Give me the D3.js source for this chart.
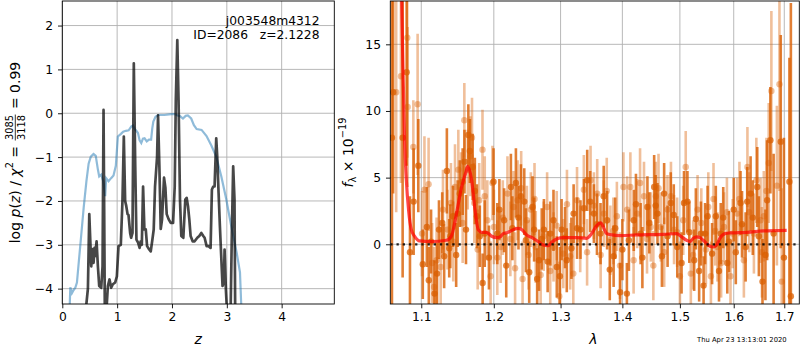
<!DOCTYPE html>
<html><head><meta charset="utf-8">
<script src="https://cdn.jsdelivr.net/npm/d3@7"></script>
<style>
body{margin:0;background:#fff}
svg{display:block}
text{font-family:"DejaVu Sans",sans-serif;white-space:pre}
</style>
</head><body>
<svg id="c" width="800" height="350" xml:space="preserve"></svg>
<script>
// ---------------- DATA ----------------
const zTicks = [0, 1, 2, 3, 4];
const logpTicks = [-4, -3, -2, -1, 0, 1, 2];
const waveTicks = [1.1, 1.2, 1.3, 1.4, 1.5, 1.6, 1.7];
const fluxTicks = [0, 5, 10, 15];

// blue curve (chi2-based), [z, value]
const chiCurve = [[0.13,-4.6],[0.146,-3.97],[0.176,-4.1],[0.207,-4.03],[0.237,-3.98],[0.267,-3.86],[0.30,-3.4],[0.34,-2.85],[0.39,-2.15],[0.44,-1.55],[0.48,-1.15],[0.52,-0.99],[0.57,-0.93],[0.61,-0.97],[0.65,-1.29],[0.673,-1.44],[0.71,-1.4],[0.746,-1.55],[0.782,-1.89],[0.8,-1.48],[0.843,-1.55],[0.89,-1.48],[0.934,-1.42],[0.976,-1.2],[1.013,-0.53],[1.07,-0.47],[1.11,-0.42],[1.16,-0.40],[1.21,-0.39],[1.26,-0.30],[1.29,-0.28],[1.32,-0.36],[1.35,-0.40],[1.38,-0.45],[1.41,-0.62],[1.44,-0.68],[1.47,-0.58],[1.50,-0.57],[1.54,-0.64],[1.58,-0.60],[1.62,-0.60],[1.64,-0.35],[1.66,-0.19],[1.70,-0.08],[1.75,-0.04],[1.86,-0.04],[1.99,-0.02],[2.05,-0.02],[2.10,-0.05],[2.14,-0.06],[2.20,-0.12],[2.25,-0.06],[2.29,-0.05],[2.35,-0.12],[2.40,-0.27],[2.45,-0.36],[2.54,-0.38],[2.63,-0.52],[2.72,-0.74],[2.81,-1.0],[2.90,-1.44],[2.99,-1.96],[3.08,-2.57],[3.18,-3.18],[3.24,-3.63],[3.27,-4.6]];

// black curve log p(z), [z, value]
const logpCurve = [[0.419,-4.6],[0.467,-4.0],[0.492,-2.30],[0.528,-3.49],[0.552,-3.1],[0.57,-3.41],[0.588,-3.07],[0.60,-3.26],[0.625,-2.92],[0.649,-3.49],[0.673,-3.94],[0.71,-3.98],[0.734,-3.49],[0.752,0.075],[0.776,-4.6],[0.80,-4.6],[0.831,-3.94],[0.861,-3.79],[0.891,-3.98],[0.922,-3.9],[0.964,-3.86],[0.995,-3.72],[1.025,-3.03],[1.067,-3.0],[1.097,-2.0],[1.122,-0.53],[1.146,-2.0],[1.164,-2.1],[1.19,-2.3],[1.207,-2.32],[1.237,-2.73],[1.255,-2.84],[1.28,-2.73],[1.304,1.14],[1.33,-1.2],[1.352,-2.88],[1.382,-2.95],[1.41,-3.07],[1.43,-2.92],[1.45,-3.0],[1.473,-1.67],[1.497,-2.65],[1.522,-2.65],[1.546,-3.03],[1.582,-3.1],[1.613,-3.15],[1.643,-2.88],[1.667,-2.65],[1.691,-1.67],[1.728,-1.0],[1.746,-0.05],[1.77,-1.2],[1.795,-2.64],[1.819,-2.42],[1.855,-1.47],[1.88,-1.7],[1.904,-2.3],[1.94,-2.42],[1.977,-2.5],[2.02,-2.5],[2.05,-1.67],[2.07,0.3],[2.097,1.67],[2.12,0.3],[2.146,-1.97],[2.17,-2.8],[2.207,-2.84],[2.243,-1.97],[2.268,-1.93],[2.292,-2.12],[2.316,-2.42],[2.34,-2.8],[2.377,-2.92],[2.413,-2.92],[2.462,-2.84],[2.498,-2.8],[2.535,-2.73],[2.571,-2.8],[2.595,-2.84],[2.632,-3.03],[2.668,-3.03],[2.704,-3.07],[2.728,-1.74],[2.753,-1.67],[2.777,-1.67],[2.807,-0.57],[2.825,-0.98],[2.85,-1.82],[2.874,-2.58],[2.898,-3.26],[2.922,-3.94],[2.947,-3.86],[2.959,-3.11],[2.983,-4.02],[3.007,-4.6],[3.068,-4.6],[3.092,-2.73],[3.116,-1.21],[3.14,-1.97],[3.153,-4.6]];

// spectrum, darker exposure: wavelength (micron), flux, error
const waveA = [1.0620,1.0635,1.0757,1.0809,1.0852,1.0900,1.0961,1.1074,1.1100,1.1176,1.1236,1.1306,1.1343,1.1375,1.1426,1.1491,1.1560,1.1606,1.1639,1.1699,1.1759,1.1840,1.1870,1.1996,1.2050,1.2149,1.2248,1.2322,1.2396,1.2446,1.2520,1.2594,1.2668,1.2743,1.2842,1.2941,1.3016,1.3097,1.3205,1.3314,1.3422,1.3530,1.3638,1.3746,1.3854,1.3962,1.4076,1.4193,1.4310,1.4427,1.4544,1.4602,1.4719,1.4836,1.4953,1.5074,1.5136,1.5259,1.5383,1.5432,1.5506,1.5660,1.5753,1.5877,1.6000,1.6131,1.6261,1.6327,1.6458,1.6562,1.6654,1.6719,1.6784,1.6928,1.6993,1.7105,1.7135,
  1.1020,1.1130,1.1210,1.1280,1.1390,1.1470,1.1520,1.1585,1.1660,1.1730,1.1800,1.1930,1.2080,1.2180,1.2270,1.2360,1.2470,1.2570,1.2640,1.2710,1.2800,1.2890,1.2990,1.3070,1.3170,1.3260,1.3370,1.3470,1.3580,1.3690,1.3790,1.3880,1.4000,1.4110,1.4230,1.4340,1.4460,1.4570,1.4680,1.4780,1.4890,1.5030,1.5170,1.5290,1.5350,1.5460,1.5590,1.5720,1.5800,1.5910,1.6040,1.6160,1.6230,1.6370,1.6490,1.6620];
const fluxA = [8,11.4,8.0,12.9,-0.6,3.2,5.9,1.3,-2.7,-3.7,1.1,-0.9,5.5,-0.3,2.1,2.3,4.7,1.1,8.2,5.8,2.1,-2.9,0.8,4.7,0.8,1.8,4.3,4.6,3.6,3.2,-2.1,1.1,-1.2,1.1,0.8,-1.7,1.1,-1.2,2.3,1.1,4.8,2.3,0.8,1.8,-0.9,-3.6,-3.7,1.8,0.8,2.8,4.3,2.3,3.8,3.1,-0.2,3.1,3.2,-1.2,0.8,-3.1,2.1,2.1,0.8,-1.4,2.6,3.1,3.2,3.8,4.3,-2.8,3.3,7.8,0.8,7.7,-1.0,4.7,-3.9,
  -1.5,0.2,-2.2,1.6,0.6,-0.8,3.8,6.2,7.0,4.0,0.6,-1.0,2.6,-1.6,1.2,2.0,0.3,2.8,-2.6,0.4,-1.3,1.8,-2.4,0.5,-0.3,1.2,2.7,3.2,1.5,3.6,-1.9,1.2,-0.4,0.3,3.0,-1.0,1.6,2.9,-0.9,0.6,2.2,-1.4,0.9,1.9,-2.0,0.8,-0.7,-2.0,2.0,0.2,-0.6,1.5,-0.2,2.0,0.6,-0.8];
const errA = [20,7.6,10.5,7,4.2,4,3.5,3.0,2.5,2.5,2.2,2.4,3.2,2.2,2.3,2.5,2.5,2.6,2.3,2.5,2.4,2.2,2.5,2.5,2.3,2.4,2.5,2.6,2.4,2.5,2.3,2.4,2.3,2.3,2.4,2.3,2.3,2.4,2.2,2.2,2.3,2.2,2.3,2.2,2.3,2.2,2.3,2.3,2.3,2.3,2.4,2.3,2.3,2.3,2.3,2.4,2.3,2.3,2.4,2.2,2.3,2.3,2.3,2.3,2.4,2.4,2.6,2.8,3.0,3.2,4.5,4.0,6,8,9,9.3,22,
  2.6,2.4,2.3,2.3,2.4,2.4,2.5,2.4,2.4,2.5,2.3,2.4,2.3,2.4,2.4,2.4,2.4,2.3,2.3,2.3,2.3,2.3,2.2,2.3,2.3,2.3,2.2,2.3,2.3,2.3,2.3,2.3,2.3,2.3,2.3,2.3,2.3,2.3,2.3,2.3,2.3,2.3,2.3,2.3,2.3,2.3,2.3,2.3,2.3,2.3,2.4,2.5,2.6,2.8,3.0,3.4];

// spectrum, lighter exposure
const waveB = [1.0674,1.0735,1.0817,1.0822,1.0896,1.0952,1.1042,1.1097,1.1144,1.1204,1.1259,1.1352,1.1398,1.1454,1.1537,1.1583,1.1630,1.1667,1.1722,1.1792,1.1838,1.1907,1.1954,1.2002,1.2099,1.2198,1.2287,1.2347,1.2421,1.2485,1.2545,1.2619,1.2693,1.2792,1.2891,1.2980,1.3043,1.3151,1.3259,1.3368,1.3476,1.3584,1.3692,1.3800,1.3908,1.4018,1.4135,1.4251,1.4368,1.4485,1.4573,1.4661,1.4778,1.4895,1.5000,1.5105,1.5198,1.5321,1.5475,1.5568,1.5617,1.5691,1.5815,1.5938,1.6065,1.6196,1.6265,1.6392,1.6523,1.6588,1.6686,1.6739,1.6850,1.6902,1.6948,
  1.1010,1.1170,1.1290,1.1430,1.1500,1.1560,1.1690,1.1770,1.1870,1.1980,1.2050,1.2130,1.2240,1.2310,1.2400,1.2510,1.2600,1.2740,1.2840,1.2940,1.3100,1.3200,1.3310,1.3420,1.3530,1.3640,1.3740,1.3850,1.3960,1.4080,1.4190,1.4300,1.4420,1.4530,1.4620,1.4720,1.4840,1.4950,1.5060,1.5240,1.5390,1.5520,1.5650,1.5760,1.5870,1.5980,1.6110,1.6300,1.6440,1.6550,1.6640];
const fluxB = [11.4,12.6,15.5,10.3,7.3,10.5,4.1,4.5,-1.4,-1.2,-1.7,1.1,3.1,4.3,4.1,9.3,5.6,6.6,3.1,3.3,7.1,1.8,-2.4,1.3,-0.2,3.8,2.8,3.3,-2.6,1.8,2.6,-0.2,-2.3,2.8,-0.2,-3.9,-0.7,-0.9,3.3,4.1,4.8,3.8,2.3,0.3,2.1,4.3,4.3,2.3,3.6,1.3,3.6,1.3,2.6,1.1,-2.4,5.8,-2.2,2.6,-0.4,-2.4,3.4,-0.2,1.3,-2.4,2.3,-1.2,5.8,0.8,1.8,2.1,6.1,11.5,4.4,12.0,-2.8,
  0.8,-3.2,2.6,0.2,5.6,1.6,8.0,-0.4,3.6,4.6,-1.0,2.0,0.4,-1.8,4.2,-0.8,3.4,0.6,-2.0,1.4,3.0,-2.2,0.4,-0.6,2.9,-0.8,4.0,1.0,-1.6,2.6,-1.2,4.6,0.4,-1.6,4.2,-0.6,3.6,0.9,1.8,-0.8,1.6,2.8,1.0,-1.4,2.4,0.8,3.4,2.4,4.8,-0.6,4.0];
const errB = [9,8,9,6,3.5,5.3,4.0,3.5,3,3.2,3,3,3,3.2,2.8,2.8,3,3,3,2.8,3,3,2.6,2.8,2.7,2.8,2.7,3,2.8,2.6,2.8,2.7,2.6,2.6,2.6,2.6,2.6,2.5,2.5,2.6,2.6,2.6,2.5,2.6,2.6,2.6,2.6,2.6,2.6,2.6,2.6,2.6,2.6,2.6,2.6,2.7,2.6,2.6,2.6,2.6,2.7,2.6,2.6,2.6,2.7,2.8,3.0,3.0,3.2,3.4,4.5,6,6,8,7,
  3.2,3,3,3,3,3,3,3,3,2.8,2.8,2.8,2.8,2.7,2.8,2.6,2.7,2.6,2.6,2.6,2.6,2.5,2.5,2.5,2.5,2.5,2.5,2.5,2.5,2.5,2.5,2.6,2.6,2.6,2.6,2.6,2.6,2.6,2.6,2.6,2.6,2.6,2.6,2.6,2.6,2.6,2.8,3.0,3.2,3.4,4.0];

// best-fit model, [wavelength, flux]
const modelCurve = [[1.0739,20],[1.0761,13.3],[1.0783,7.6],[1.0804,4.9],[1.0835,2.5],[1.0869,1.1],[1.0913,0.6],[1.0979,0.25],[1.1133,0.2],[1.1335,0.3],[1.1403,0.6],[1.1471,2.2],[1.1541,4.2],[1.1610,5.5],[1.1629,5.85],[1.1685,4.8],[1.1732,2.6],[1.1778,1.1],[1.1826,0.9],[1.1897,0.9],[1.1969,0.6],[1.2041,0.5],[1.2089,0.55],[1.2137,0.8],[1.2210,0.9],[1.2284,1.1],[1.2358,1.2],[1.2408,1.1],[1.2483,0.7],[1.2581,0.45],[1.2657,0.2],[1.2733,-0.05],[1.2810,-0.1],[1.2862,0.15],[1.2939,0.4],[1.3042,0.5],[1.3253,0.5],[1.3413,0.45],[1.3494,0.8],[1.3575,1.4],[1.3641,1.6],[1.3683,1.3],[1.3739,0.8],[1.3822,0.7],[1.3960,0.65],[1.4243,0.7],[1.4704,0.75],[1.4942,0.8],[1.5032,0.55],[1.5122,0.3],[1.5182,0.2],[1.5242,0.45],[1.5305,0.55],[1.5365,0.5],[1.5426,0.3],[1.5489,0.05],[1.5550,-0.15],[1.5612,-0.2],[1.5675,-0.05],[1.5737,0.45],[1.5832,0.8],[1.5928,0.85],[1.6250,0.9],[1.6577,1.0],[1.7049,1.05]];

const titleLines = ["j003548m4312", "ID=2086   z=2.1228"];
const stamp = "Thu Apr 23 13:13:01 2020";

// ---------------- DRAW ----------------
const svg = d3.select("#c");
const L = {x0:62.3, x1:334.3, y0:1, y1:304};
const R = {x0:390.3, x1:799.3, y0:1, y1:304};
const xz = d3.scaleLinear().domain([0, 4.96]).range([L.x0, L.x1]);
const yz = d3.scaleLinear().domain([-4.35, 2.56]).range([L.y1, L.y0]);
const xl = d3.scaleLog().domain([1.0599, 1.7309]).range([R.x0, R.x1]);
const yf = d3.scaleLinear().domain([-4.48, 18.25]).range([R.y1, R.y0]);

const defs = svg.append("defs");
[["clipL", L], ["clipR", R]].forEach(([id, b]) => {
  defs.append("clipPath").attr("id", id).append("rect")
    .attr("x", b.x0).attr("y", b.y0).attr("width", b.x1 - b.x0).attr("height", b.y1 - b.y0);
});

const GRID = "#b0b0b0";
function grid(b, xs, xt, ys, yt) {
  const g = svg.append("g").attr("stroke", GRID).attr("stroke-width", 0.9);
  xt.forEach(t => g.append("line").attr("x1", xs(t)).attr("x2", xs(t)).attr("y1", b.y0).attr("y2", b.y1));
  yt.forEach(t => g.append("line").attr("y1", ys(t)).attr("y2", ys(t)).attr("x1", b.x0).attr("x2", b.x1));
}
grid(L, xz, zTicks, yz, logpTicks);
grid(R, xl, waveTicks, yf, fluxTicks);

// left panel curves
const gl = svg.append("g").attr("clip-path", "url(#clipL)");
const lineZ = d3.line().x(d => xz(d[0])).y(d => yz(d[1]));
gl.append("path").datum(chiCurve).attr("d", lineZ).attr("fill", "none")
  .attr("stroke", "#1f77b4").attr("stroke-opacity", 0.5).attr("stroke-width", 2.2);
gl.append("path").datum(logpCurve).attr("d", lineZ).attr("fill", "none")
  .attr("stroke", "#000").attr("stroke-opacity", 0.72).attr("stroke-width", 2.7).attr("stroke-linejoin", "round");

// right panel spectrum
const gr = svg.append("g").attr("clip-path", "url(#clipR)");
const ORANGE = "#d95f02";
function errSeries(w, f, e, op, pop) {
  const g = gr.append("g");
  w.forEach((x, i) => {
    g.append("line").attr("x1", xl(x)).attr("x2", xl(x))
      .attr("y1", yf(f[i] - e[i])).attr("y2", yf(f[i] + e[i]))
      .attr("stroke", ORANGE).attr("stroke-opacity", op).attr("stroke-width", 2.6);
  });
  w.forEach((x, i) => {
    g.append("circle").attr("cx", xl(x)).attr("cy", yf(f[i])).attr("r", 3.2)
      .attr("fill", ORANGE).attr("fill-opacity", pop);
  });
}
errSeries(waveB, fluxB, errB, 0.4, 0.4);
errSeries(waveA, fluxA, errA, 0.8, 0.75);

const lineW = d3.line().x(d => xl(d[0])).y(d => yf(d[1])).curve(d3.curveMonotoneX);
gr.append("path").datum(modelCurve).attr("d", lineW).attr("fill", "none")
  .attr("stroke", "#ff0000").attr("stroke-opacity", 0.72).attr("stroke-width", 3.2);
gr.append("line").attr("x1", R.x0).attr("x2", R.x1).attr("y1", yf(0)).attr("y2", yf(0))
  .attr("stroke", "#000").attr("stroke-width", 2.2).attr("stroke-dasharray", "2.3,3.9").attr("stroke-opacity", 0.85);

// spines
[L, R].forEach(b => svg.append("rect").attr("x", b.x0).attr("y", b.y0)
  .attr("width", b.x1 - b.x0).attr("height", b.y1 - b.y0)
  .attr("fill", "none").attr("stroke", "#000").attr("stroke-width", 0.9));

// axes
function styleAxis(g) {
  g.select(".domain").remove();
  g.selectAll(".tick line").attr("stroke", "#000").attr("stroke-width", 0.9);
  g.selectAll(".tick text").attr("fill", "#000").attr("font-size", 12.3)
    .attr("font-family", "DejaVu Sans");
}
svg.append("g").attr("transform", `translate(0,${L.y1})`)
  .call(d3.axisBottom(xz).tickValues(zTicks).tickFormat(d3.format("d")).tickSize(4.3).tickPadding(3.6)).call(styleAxis);
svg.append("g").attr("transform", `translate(${L.x0},0)`)
  .call(d3.axisLeft(yz).tickValues(logpTicks).tickFormat(d3.format("d")).tickSize(4.3).tickPadding(5)).call(styleAxis);
svg.append("g").attr("transform", `translate(0,${R.y1})`)
  .call(d3.axisBottom(xl).tickValues(waveTicks).tickFormat(d3.format(".1f")).tickSize(4.3).tickPadding(3.6)).call(styleAxis);
svg.append("g").attr("transform", `translate(${R.x0},0)`)
  .call(d3.axisLeft(yf).tickValues(fluxTicks).tickFormat(d3.format("d")).tickSize(4.3).tickPadding(5)).call(styleAxis);

// title text in left panel
titleLines.forEach((t, i) => {
  svg.append("text").attr("x", 319.5).attr("y", 25 + i * 14).attr("text-anchor", "end")
    .attr("font-size", 12.3).attr("fill", "#000").text(t);
});

// x labels
svg.append("text").attr("x", (L.x0 + L.x1) / 2).attr("y", 343.5).attr("text-anchor", "middle")
  .attr("font-size", 14).attr("font-style", "italic").text("z");
svg.append("text").attr("x", (R.x0 + R.x1) / 2 - 1.5).attr("y", 343.5).attr("text-anchor", "middle")
  .attr("font-size", 14).attr("font-style", "italic").text("λ");

// math-like rotated labels
function mathText(g, pieces, fs) {
  let x = 0;
  pieces.forEach(p => {
    if (p.frac) {
      const s = fs * 0.7;
      const n = g.append("text").attr("font-size", s).text(p.frac[0]);
      const d = g.append("text").attr("font-size", s).text(p.frac[1]);
      const w = Math.max(n.node().getComputedTextLength(), d.node().getComputedTextLength());
      n.attr("x", x + 1.5 + w / 2).attr("y", -fs * 0.47).attr("text-anchor", "middle");
      d.attr("x", x + 1.5 + w / 2).attr("y", fs * 0.42).attr("text-anchor", "middle");
      g.append("line").attr("x1", x + 1).attr("x2", x + 2 + w)
        .attr("y1", -fs * 0.3).attr("y2", -fs * 0.3).attr("stroke", "#000").attr("stroke-width", 0.8);
      x += w + 3;
    } else {
      const t = g.append("text").attr("x", x).attr("y", (p.dy || 0) * fs)
        .attr("font-size", (p.s || 1) * fs).attr("font-style", p.it ? "italic" : null).text(p.t);
      x += t.node().getComputedTextLength();
    }
  });
  return x;
}
function rotLabel(cx, cy, pieces, fs) {
  const g = svg.append("g");
  const w = mathText(g, pieces, fs);
  g.attr("transform", `translate(${cx},${cy + w / 2}) rotate(-90)`);
}
rotLabel(19.5, 152.5, [
  {t: "log "}, {t: "p", it: true}, {t: "("}, {t: "z", it: true}, {t: ")"}, {t: " / "},
  {t: "χ", it: true}, {t: "2", s: 0.7, dy: -0.45}, {t: " = "}, {frac: ["3085", "3118"]}, {t: " = 0.99"}
], 14);
rotLabel(352.5, 152.5, [
  {t: "f", it: true}, {t: "λ", s: 0.7, dy: 0.22}, {t: " × 10"}, {t: "−19", s: 0.7, dy: -0.45}
], 14);

// timestamp
svg.append("text").attr("x", 697).attr("y", 342).attr("font-size", 6.8).attr("fill", "#000").text(stamp);
</script>
</body></html>
